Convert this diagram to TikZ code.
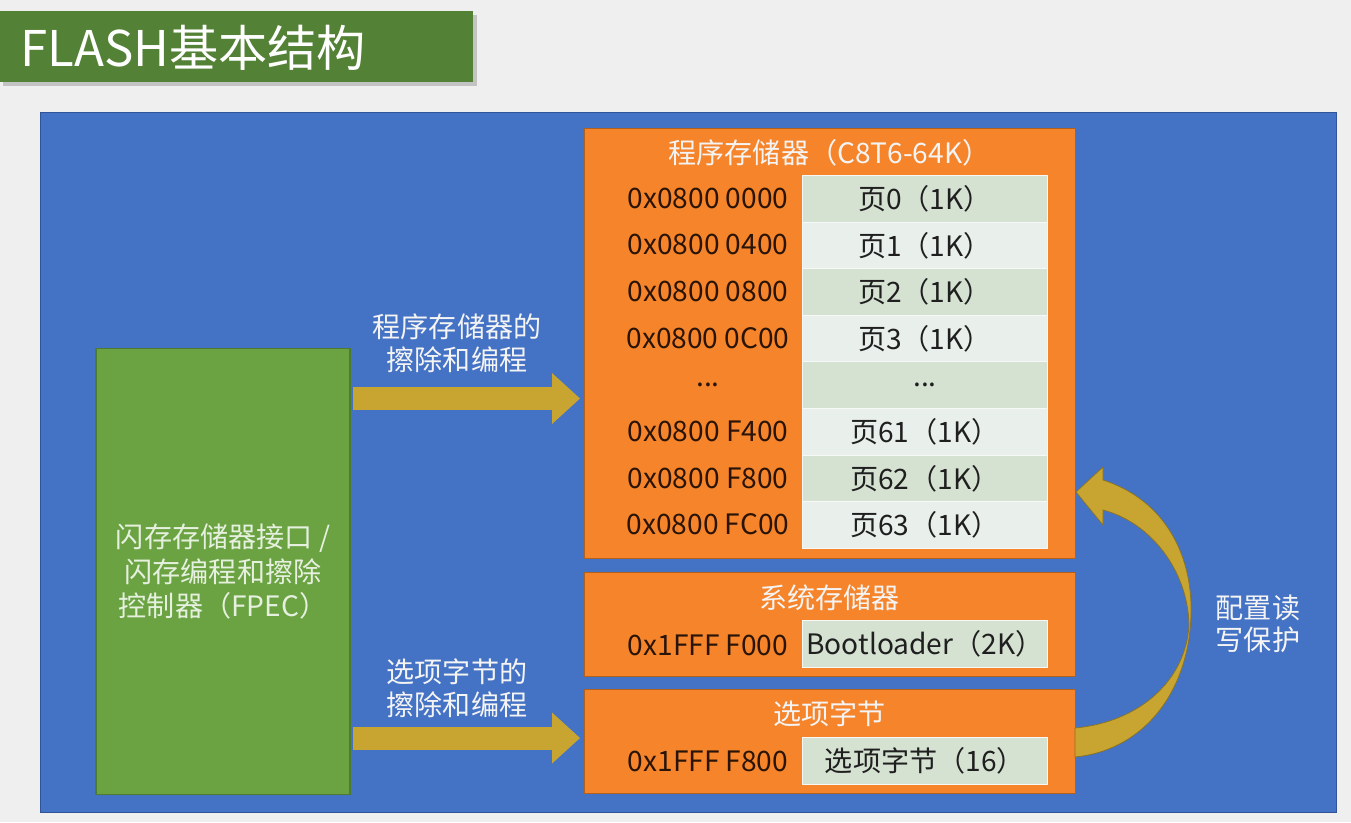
\documentclass[tikz,border=0pt]{standalone}
\usepackage{fontspec}
\setmainfont{Noto Sans CJK SC}
\usetikzlibrary{arrows.meta,positioning}
\definecolor{pagegray}{HTML}{EFEFEF}
\definecolor{titlegreen}{HTML}{538135}
\definecolor{panelblue}{HTML}{4472C4}
\definecolor{paneldark}{HTML}{2F5597}
\definecolor{fpecgreen}{HTML}{6BA343}
\definecolor{fpecdark}{HTML}{4E7A31}
\definecolor{memorange}{HTML}{F5842B}
\definecolor{orangedark}{HTML}{B0601F}
\definecolor{arrowgold}{HTML}{C8A431}
\definecolor{golddark}{HTML}{8A7222}
\definecolor{celldark}{HTML}{D5E2D2}
\definecolor{celllight}{HTML}{E9EFEA}
\definecolor{addrtext}{HTML}{2A1407}
\definecolor{lighttext}{HTML}{F4F4F4}
\definecolor{fpectext}{HTML}{E6F0DE}
\newcommand{\skiprow}{...}

\begin{document}
\begin{tikzpicture}[
    x=0.02cm, y=-0.02cm,
    every node/.style={font=\fontsize{16}{19}\selectfont, inner sep=0pt},
    memblock/.style={
        rectangle,
        fill=memorange,
        draw=orangedark,
        line width=0.8pt,
        minimum width=9.82cm,
        anchor=north west
    },
    cell/.style={
        rectangle,
        draw=white!60!celllight,
        line width=0.5pt,
        minimum width=4.9cm,
        minimum height=0.932cm,
        anchor=north west,
        text=black!88
    },
    addr/.style={text=addrtext},
    memtitle/.style={text=lighttext},
    lbl/.style={align=center, text=lighttext, font=\fontsize{16}{18.7}\selectfont},
    blockarrow/.style={
        -{Triangle[length=0.56cm,width=1.02cm,line width=0pt]},
        line width=0.46cm,
        arrowgold
    }
]
    \useasboundingbox (0,0) rectangle (1351,822);
    \fill[pagegray] (0,0) rectangle (1351,822);

    % === TITLE BAR ===
    \fill[black, opacity=0.18] (3,15) rectangle (477,86);
    \node[rectangle, fill=titlegreen, minimum width=9.46cm, minimum height=1.42cm, anchor=north west] (titlebar) at (0,11) {};
    \node[anchor=west, text=white, font=\fontsize{28}{32}\selectfont] (titletext) at (20,48) {FLASH基本结构};

    % === BLUE PANEL ===
    \node[rectangle, fill=panelblue, draw=paneldark, line width=0.8pt, minimum width=25.92cm, minimum height=14cm, anchor=north west] (panel) at (40,112) {};

    % Flash interface / controller
    \node[rectangle, fill=fpecgreen, draw=fpecdark, line width=0.6pt, minimum width=5.08cm, minimum height=8.94cm,
          align=center, text=fpectext, font=\fontsize{16}{19.8}\selectfont] (fpec) at (223,571.5) {
        闪存存储器接口 /\\
        闪存编程和擦除\\
        控制器（FPEC）
    };

    % === MAIN MEMORY ===
    \node[memblock, minimum height=8.6cm] (progmem) at (584,128) {};
    \node[memtitle] (progtitle) at (829.5,153) {程序存储器（C8T6-64K）};

    % Pages
    \foreach \a/\p [count=\i from 0] in {
        0x0800 0000/页0（1K）,
        0x0800 0400/页1（1K）,
        0x0800 0800/页2（1K）,
        0x0800 0C00/页3（1K）,
        {\skiprow}/{\skiprow},
        0x0800 F400/页61（1K）,
        0x0800 F800/页62（1K）,
        0x0800 FC00/页63（1K）} {
        \pgfmathsetmacro\ry{175+46.6*\i}
        \ifodd\i \def\cc{celllight}\else\def\cc{celldark}\fi
        \node[cell, fill=\cc] (page\i) at (802,\ry) {\p};
        \node[addr] (addr\i) at (708,\ry+23.3) {\a};
    }

    % === SYSTEM MEMORY ===
    \node[memblock, minimum height=2.08cm] (sysmem) at (584,572) {};
    \node[memtitle] (systitle) at (829.5,598) {系统存储器};
    \node[cell, fill=celldark, minimum height=0.94cm] (boot) at (802,620) {Bootloader（2K）};
    \node[addr] (bootaddr) at (708,645) {0x1FFF F000};

    % === OPTION BYTES ===
    \node[memblock, minimum height=2.08cm] (optbytes) at (584,689) {};
    \node[memtitle] (opttitle) at (829.5,714) {选项字节};
    \node[cell, fill=celldark, minimum height=0.94cm] (optcell) at (802,737) {选项字节（16）};
    \node[addr] (optaddr) at (708,761) {0x1FFF F800};

    % === ARROWS ===
    \draw[blockarrow, shorten <=0.04cm, shorten >=0.08cm] (fpec.east |- 0,398.5) -- (progmem.west |- 0,398.5);
    \node[lbl] (proglbl) at (457,343.5) {程序存储器的\\擦除和编程};

    \draw[blockarrow, shorten <=0.04cm, shorten >=0.08cm] (fpec.east |- 0,738) -- (optbytes.west |- 0,738);
    \node[lbl] (optlbl) at (457,688.5) {选项字节的\\擦除和编程};

    % Read/write protection
    \filldraw[fill=arrowgold, draw=golddark, line width=0.4pt]
        (1103,480) .. controls (1165,500) and (1192,555) .. (1191,612)
        .. controls (1190,690) and (1145,750) .. (1075,757)
        -- (1075,728)
        .. controls (1140,722) and (1186,680) .. (1189,625)
        .. controls (1188,570) and (1150,522) .. (1103,510)
        -- (1103,525) -- (1076,492) -- (1103,467) -- cycle;
    \node[lbl, font=\fontsize{16}{18.3}\selectfont] (protlbl) at (1258,624) {配置读\\写保护};
\end{tikzpicture}
\end{document}
